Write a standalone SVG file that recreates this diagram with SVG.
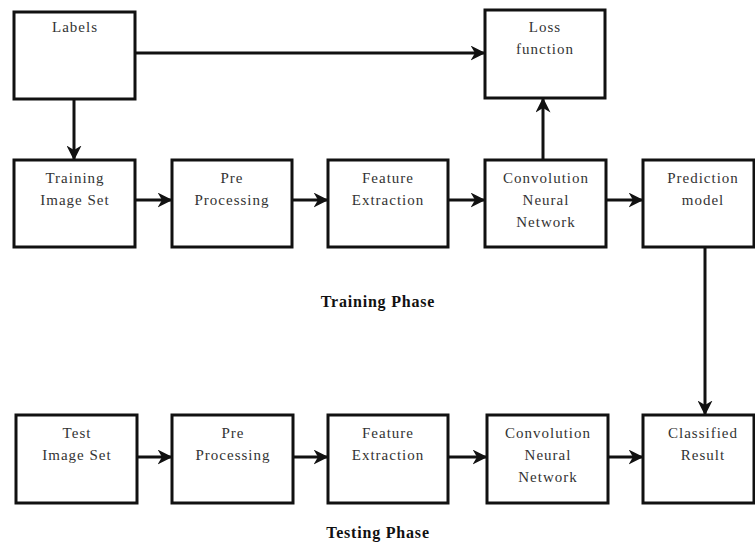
<svg xmlns="http://www.w3.org/2000/svg" width="755" height="544" viewBox="0 0 755 544" font-family="Liberation Serif, Times New Roman, DejaVu Serif, serif">
<style>
.box{fill:#fff;stroke:#111;stroke-width:3}
.t{font-size:15px;fill:#333;text-anchor:middle;letter-spacing:1px}
.h{font-size:16px;font-weight:bold;fill:#111;text-anchor:middle;letter-spacing:0.8px}
.c{stroke:#111;stroke-width:3;fill:none;marker-end:url(#ah)}
</style>
<defs>
<marker id="ah" viewBox="0 0 10 10" refX="9" refY="5" markerWidth="5" markerHeight="5" orient="auto" markerUnits="strokeWidth">
<path d="M0,0 L10,5 L0,10 L3,5 Z" fill="#111"/>
</marker>
</defs>
<rect width="755" height="544" fill="#fff"/>
<g id="connectors">
<line class="c" x1="136" y1="53" x2="484" y2="53"/>
<line class="c" x1="74" y1="100" x2="74" y2="159"/>
<line class="c" x1="543" y1="160" x2="543" y2="99"/>
<line class="c" x1="136" y1="200" x2="171" y2="200"/>
<line class="c" x1="293" y1="200" x2="327" y2="200"/>
<line class="c" x1="449" y1="200" x2="484" y2="200"/>
<line class="c" x1="607" y1="200" x2="642" y2="200"/>
<line class="c" x1="705" y1="248" x2="705" y2="414"/>
<line class="c" x1="138" y1="457" x2="171" y2="457"/>
<line class="c" x1="294" y1="457" x2="327" y2="457"/>
<line class="c" x1="449" y1="457" x2="486" y2="457"/>
<line class="c" x1="609" y1="457" x2="642" y2="457"/>
</g>
<g id="labels"><rect class="box" x="14" y="12" width="121" height="87"/><text class="t" x="75" y="32">Labels</text></g>
<g id="loss"><rect class="box" x="485" y="10" width="120" height="88"/><text class="t" x="545" y="32">Loss</text><text class="t" x="545" y="54">function</text></g>
<g id="train-set"><rect class="box" x="14" y="160" width="121" height="87"/><text class="t" x="75" y="183">Training</text><text class="t" x="75" y="205">Image Set</text></g>
<g id="pre1"><rect class="box" x="172" y="160" width="120" height="87"/><text class="t" x="232" y="183">Pre</text><text class="t" x="232" y="205">Processing</text></g>
<g id="feat1"><rect class="box" x="328" y="160" width="120" height="87"/><text class="t" x="388" y="183">Feature</text><text class="t" x="388" y="205">Extraction</text></g>
<g id="cnn1"><rect class="box" x="485" y="160" width="121" height="87"/><text class="t" x="546" y="183">Convolution</text><text class="t" x="546" y="205">Neural</text><text class="t" x="546" y="227">Network</text></g>
<g id="pred"><rect class="box" x="643" y="160" width="111" height="87"/><text class="t" x="703" y="183">Prediction</text><text class="t" x="703" y="205">model</text></g>
<g id="train-phase"><text class="h" x="378" y="307">Training  Phase</text></g>
<g id="test-set"><rect class="box" x="16" y="415" width="121" height="88"/><text class="t" x="77" y="438">Test</text><text class="t" x="77" y="460">Image Set</text></g>
<g id="pre2"><rect class="box" x="172" y="415" width="121" height="88"/><text class="t" x="233" y="438">Pre</text><text class="t" x="233" y="460">Processing</text></g>
<g id="feat2"><rect class="box" x="328" y="415" width="120" height="88"/><text class="t" x="388" y="438">Feature</text><text class="t" x="388" y="460">Extraction</text></g>
<g id="cnn2"><rect class="box" x="487" y="415" width="121" height="88"/><text class="t" x="548" y="438">Convolution</text><text class="t" x="548" y="460">Neural</text><text class="t" x="548" y="482">Network</text></g>
<g id="classified"><rect class="box" x="643" y="415" width="111" height="88"/><text class="t" x="703" y="438">Classified</text><text class="t" x="703" y="460">Result</text></g>
<g id="test-phase"><text class="h" x="378" y="538">Testing  Phase</text></g>
</svg>
